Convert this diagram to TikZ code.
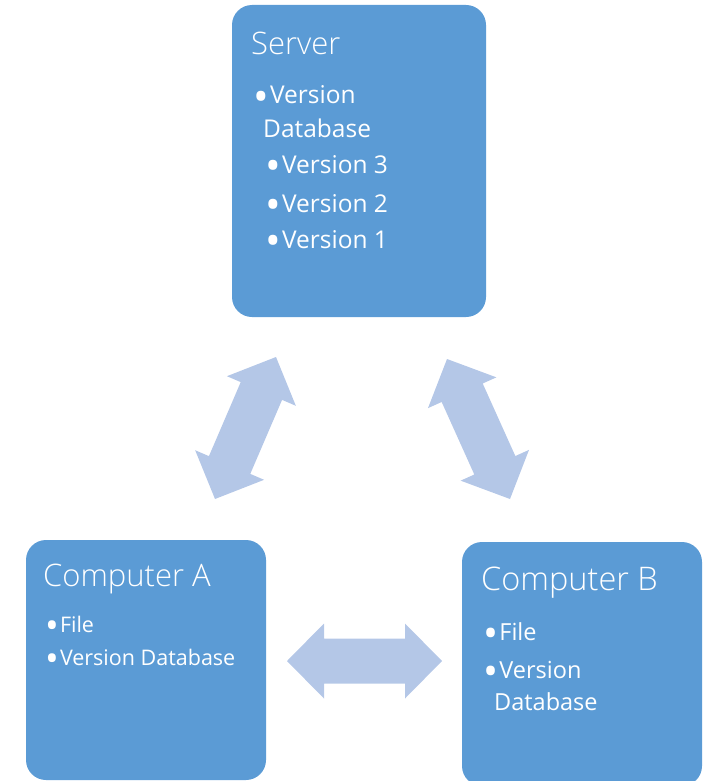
\documentclass[tikz,border=0pt]{standalone}
\usepackage{fontspec}
\setmainfont{Open Sans}
\newfontfamily\lightfont{Open Sans Light}
\usepackage{tikz}
\usetikzlibrary{calc}
\definecolor{boxblue}{HTML}{5B9BD5}
\definecolor{flowfill}{HTML}{B4C7E7}
\newcommand{\headlen}{37pt}
\newcommand{\headhalf}{37.5pt}
\newcommand{\shafthalf}{22.5pt}
\newcommand{\blt}{\raisebox{-0.3em}{\scalebox{1.7}{•}}\kern0.05em}
% block double arrow between two named coordinates
\newcommand{\twoway}[2]{%
  \fill[flowfill]
    (#1)
    -- ($($(#1)!\headlen!(#2)$)!\headhalf!90:(#2)$)
    -- ($($(#1)!\headlen!(#2)$)!\shafthalf!90:(#2)$)
    -- ($($(#2)!\headlen!(#1)$)!\shafthalf!-90:(#1)$)
    -- ($($(#2)!\headlen!(#1)$)!\headhalf!-90:(#1)$)
    -- (#2)
    -- ($($(#2)!\headlen!(#1)$)!\headhalf!90:(#1)$)
    -- ($($(#2)!\headlen!(#1)$)!\shafthalf!90:(#1)$)
    -- ($($(#1)!\headlen!(#2)$)!\shafthalf!-90:(#2)$)
    -- ($($(#1)!\headlen!(#2)$)!\headhalf!-90:(#2)$)
    -- cycle;}
\tikzset{
  box/.style={
    rectangle,
    rounded corners=20pt,
    fill=boxblue,
    inner sep=0pt
  },
  boxtitle/.style={anchor=base west, inner sep=0pt, text=white, font=\lightfont\fontsize{31}{36}\selectfont},
  bigtitle/.style={boxtitle, font=\lightfont\fontsize{32.5}{36}\selectfont},
  itembase/.style={anchor=base west, inner sep=0pt, text=white, text height=0.75em, text depth=0.2em},
  bigitem/.style={itembase, font=\fontsize{24.5}{28}\selectfont},
  smallitem/.style={itembase, font=\fontsize{21.5}{24}\selectfont},
  miditem/.style={itembase, font=\fontsize{23.5}{26}\selectfont},
}

\begin{document}
\begin{tikzpicture}[x=1pt, y=-1pt]
  \useasboundingbox (0,0) rectangle (707,781);

  % ---------------------------------------------------------------
  % Boxes
  % ---------------------------------------------------------------
  \node[box, minimum width=254pt, minimum height=312pt] (server) at (359,161) {};
  \node[box, minimum width=240pt, minimum height=240pt] (compA) at (146,660) {};
  \node[box, minimum width=240pt, minimum height=244pt] (compB) at (582,664) {};

  % Server contents
  \node[boxtitle] (servertitle) at (251,55) {Server};
  \node[bigitem] (srvdb)  at (253,104) {\blt Version};
  \node[bigitem] (srvdb2) at (263,137) {Database};
  \node[bigitem] (srvv3)  at (265,173) {\blt Version 3};
  \node[bigitem] (srvv2)  at (265,212) {\blt Version 2};
  \node[bigitem] (srvv1)  at (265,248) {\blt Version 1};

  % Computer A contents
  \node[boxtitle] (atitle) at (43,586) {Computer A};
  \node[smallitem] (afile) at (45,632) {\blt File};
  \node[smallitem] (adb)   at (45,665) {\blt Version Database};

  % Computer B contents
  \node[bigtitle] (btitle) at (481,590) {Computer B};
  \node[miditem] (bfile) at (483,640) {\blt File};
  \node[miditem] (bdb)   at (483,678) {\blt Version};
  \node[miditem] (bdb2)  at (494,710) {Database};

  % ---------------------------------------------------------------
  % Two-way arrows
  % ---------------------------------------------------------------
  \coordinate (linkAlo) at (215,499);
  \coordinate (linkAhi) at (276,357);
  \coordinate (linkBhi) at (447,359);
  \coordinate (linkBlo) at (510,499);
  \coordinate (linkABl) at (287,661);
  \coordinate (linkABr) at (442,661);

  \twoway{linkAlo}{linkAhi}
  \twoway{linkBhi}{linkBlo}
  \twoway{linkABl}{linkABr}

\end{tikzpicture}
\end{document}
